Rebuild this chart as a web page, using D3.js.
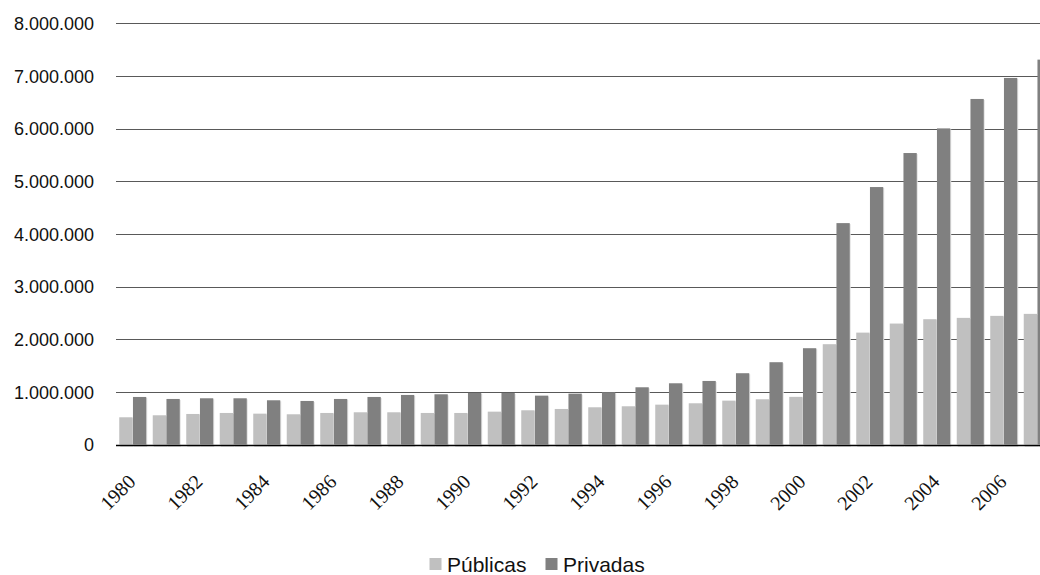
<!DOCTYPE html>
<html><head><meta charset="utf-8">
<script src="https://cdn.jsdelivr.net/npm/d3@7"></script>
<style>
html,body{margin:0;padding:0;background:#fff;}
svg{display:block;}
</style></head>
<body>
<svg id="chart" width="1040" height="575"></svg>
<script>
const years = [1980,1981,1982,1983,1984,1985,1986,1987,1988,1989,1990,1991,1992,1993,1994,1995,1996,1997,1998,1999,2000,2001,2002,2003,2004,2005,2006,2007];
const publicas = [517000,555000,580000,599000,586000,574000,599000,612000,612000,599000,599000,624000,650000,675000,707000,726000,757000,783000,833000,859000,905000,1905000,2125000,2297000,2380000,2405000,2443000,2481000];
const privadas = [903000,865000,878000,878000,840000,827000,865000,903000,941000,954000,979000,979000,928000,966000,992000,1087000,1163000,1207000,1354000,1563000,1829000,4205000,4890000,5536000,6004000,6563000,6962000,7310000];
const yTicks = [0,1000000,2000000,3000000,4000000,5000000,6000000,7000000,8000000];
const xLabelYears = [1980,1982,1984,1986,1988,1990,1992,1994,1996,1998,2000,2002,2004,2006];
const seriesNames = ["Públicas","Privadas"];
const seriesColors = ["#c0c0c0","#808080"];

const svg = d3.select("#chart");
const left = 116, step = 33.5;
const x = d3.scaleBand().domain(years).range([left, left + step*years.length]).paddingInner(6.5/33.5).paddingOuter(3.25/33.5);
const x1 = d3.scaleBand().domain([0,1]).range([0, x.bandwidth()]).paddingInner(0.03);
const y = d3.scaleLinear().domain([0, 8000000]).range([444.5, 23.3]);

const fmt = v => d3.format(",")(v).replace(/,/g, ".");

const yAxis = d3.axisLeft(y).tickValues(yTicks).tickSize(0).tickFormat(fmt);
const gy = svg.append("g").attr("transform", `translate(${left},0)`).call(yAxis);
gy.select(".domain").remove();
gy.selectAll("text").attr("x", -22).attr("dy", "0.35em")
  .style("font-family", "'Liberation Sans', Arial, sans-serif").style("font-size", "18px").style("fill", "#111");

svg.append("g").selectAll("line").data(yTicks.filter(d => d > 0)).join("line")
  .attr("x1", left).attr("x2", 1040)
  .attr("y1", d => Math.round(y(d)) + 0.5).attr("y2", d => Math.round(y(d)) + 0.5)
  .attr("stroke", "#595959").attr("stroke-width", 1);

const data = years.map((yr, i) => ({yr, vals: [publicas[i], privadas[i]]}));
const groups = svg.append("g").selectAll("g").data(data).join("g")
  .attr("transform", d => `translate(${x(d.yr)},0)`);

groups.selectAll("rect.sh").data(d => d.vals.map((v, k) => ({v, k}))).join("rect")
  .attr("class", "sh")
  .attr("x", d => x1(d.k) + 1).attr("width", x1.bandwidth())
  .attr("y", d => y(d.v) + 1).attr("height", d => y(0) - y(d.v) + 1.5)
  .attr("fill", "#e2e2e2");
groups.selectAll("rect.bar").data(d => d.vals.map((v, k) => ({v, k}))).join("rect")
  .attr("class", "bar")
  .attr("x", d => x1(d.k)).attr("width", x1.bandwidth())
  .attr("y", d => y(d.v)).attr("height", d => y(0) - y(d.v))
  .attr("fill", d => seriesColors[d.k]);

svg.append("line").attr("x1", left).attr("x2", 1040)
  .attr("y1", Math.round(y(0)) + 0.5).attr("y2", Math.round(y(0)) + 0.5)
  .attr("stroke", "#000").attr("stroke-width", 1.3);

const xAxis = d3.axisBottom(x).tickValues(xLabelYears).tickSize(0);
const gx = svg.append("g").call(xAxis);
gx.select(".domain").remove();
gx.selectAll(".tick").attr("transform", d => `translate(${x(d) + x.bandwidth()/2 + 4},483)`);
gx.selectAll("text").attr("x", 0).attr("y", 0).attr("dy", 0)
  .attr("transform", "rotate(-45)").attr("text-anchor", "end")
  .style("font-family", "'Liberation Serif', 'Times New Roman', serif").style("font-size", "20px").style("fill", "#111");

const legendX = [429.5, 545.5];
const lg = svg.append("g").selectAll("g").data(seriesNames).join("g")
  .attr("transform", (d, i) => `translate(${legendX[i]},0)`);
lg.append("rect").attr("x", 0).attr("y", 558).attr("width", 12).attr("height", 12)
  .attr("fill", (d, i) => seriesColors[i]);
lg.append("text").attr("x", 17.5).attr("y", 571.5).text(d => d)
  .style("font-family", "'Liberation Sans', Arial, sans-serif").style("font-size", "21px").style("fill", "#111");
</script>
</body></html>
